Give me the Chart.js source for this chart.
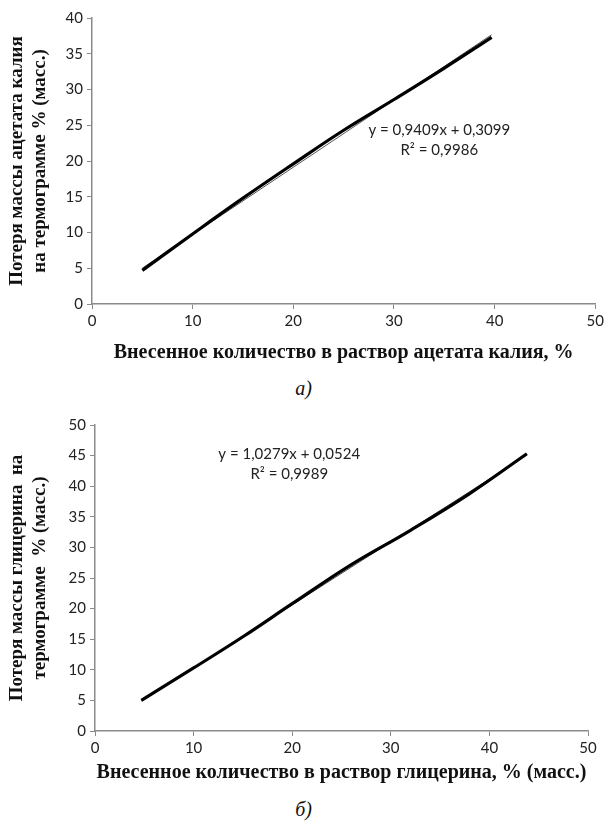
<!DOCTYPE html>
<html>
<head>
<meta charset="utf-8">
<script src="https://cdn.jsdelivr.net/npm/chart.js"></script>
<style>
    body {
        margin: 0;
        background: #fff;
        width: 607px;
        height: 828px;
        position: relative;
        overflow: hidden;
    }
    .box {
        position: absolute;
        left: 0;
    }
    .caption {
        position: absolute;
        left: 0;
        width: 607px;
        text-align: center;
        font: italic 20px "Liberation Serif";
        color: #111;
    }
</style>
</head>
<body>
<div class="box" style="top: 0"><canvas id="chartA" width="607" height="365"></canvas></div>
<div class="caption" style="top: 377px">а)</div>
<div class="box" style="top: 400px"><canvas id="chartB" width="607" height="385"></canvas></div>
<div class="caption" style="top: 798px">б)</div>

<script>
// а) ацетат калия
const acetateX = [5, 10, 15, 20, 25, 30, 35, 39.7];
const acetateY = [4.7, 9.8, 14.8, 19.6, 24.3, 28.6, 33.0, 37.3];
const acetateFit = [0.9409, 0.3099]; // наклон, свободный член
const acetateEq = ["y = 0,9409x + 0,3099", "R² = 0,9986"];

// б) глицерин
const glycerolX = [4.7, 10, 15, 20, 26, 32, 38, 43.8];
const glycerolY = [5.0, 10.3, 15.4, 20.8, 27.2, 32.8, 38.8, 45.3];
const glycerolFit = [1.0279, 0.0524];
const glycerolEq = ["y = 1,0279x + 0,0524", "R² = 0,9989"];

const xTicks = [0, 10, 20, 30, 40, 50];

const xTitleFont = { family: "Liberation Serif", size: 20, weight: "bold", lineHeight: 1.2 };
const yTitleFont = { family: "Liberation Serif", size: 19, weight: "bold", lineHeight: 1.2 };
const tickFont = { family: "Lato", size: 15 };
const axisGray = "#8a8a8a";

function points(xs, ys) {
    return xs.map((x, i) => ({ x: x, y: ys[i] }));
}

function trendLine(xs, fit) {
    const a = xs[0];
    const b = xs[xs.length - 1];
    return [
        { x: a, y: fit[0] * a + fit[1] },
        { x: b, y: fit[0] * b + fit[1] },
    ];
}

// подпись уравнения тренда
const equationLabel = {
    id: "equationLabel",
    afterDatasetsDraw(chart, args, opts) {
        const ctx = chart.ctx;
        const px = chart.scales.x.getPixelForValue(opts.at[0]);
        const py = chart.scales.y.getPixelForValue(opts.at[1]);
        ctx.save();
        ctx.font = "15px Lato";
        ctx.fillStyle = "#222";
        ctx.textAlign = "center";
        ctx.textBaseline = "middle";
        opts.lines.forEach((t, i) => ctx.fillText(t, px, py + i * 20));
        ctx.restore();
    },
};

function makeChart(id, xs, ys, fit, eq, eqAt, yMax, yTitle, xTitle, pad, xHeight) {
    return new Chart(document.getElementById(id), {
        type: "scatter",
        data: {
            datasets: [
                {
                    data: points(xs, ys),
                    showLine: true,
                    borderColor: "#000",
                    borderWidth: 3.2,
                    pointRadius: 0,
                    tension: 0.4,
                },
                {
                    data: trendLine(xs, fit),
                    showLine: true,
                    borderColor: "#555",
                    borderWidth: 1,
                    pointRadius: 0,
                },
            ],
        },
        options: {
            responsive: false,
            animation: false,
            layout: { padding: pad },
            plugins: {
                legend: { display: false },
                tooltip: { enabled: false },
                equationLabel: { lines: eq, at: eqAt },
            },
            scales: {
                x: {
                    type: "linear",
                    min: 0,
                    max: 50,
                    afterBuildTicks: (s) => {
                        s.ticks = xTicks.map((v) => ({ value: v }));
                    },
                    afterFit: (s) => {
                        s.height = xHeight;
                    },
                    grid: {
                        drawOnChartArea: false,
                        tickLength: 5,
                        color: axisGray,
                    },
                    border: { color: axisGray, width: 1.5 },
                    ticks: { font: tickFont, color: "#222", padding: 3 },
                    title: {
                        display: true,
                        text: xTitle,
                        font: xTitleFont,
                        color: "#111",
                        padding: 0,
                    },
                },
                y: {
                    min: 0,
                    max: yMax,
                    afterFit: (s) => {
                        s.width = pad.yWidth;
                    },
                    grid: {
                        drawOnChartArea: false,
                        tickLength: 5,
                        color: axisGray,
                    },
                    border: { color: axisGray, width: 1.5 },
                    ticks: { stepSize: 5, font: tickFont, color: "#222", padding: 4 },
                    title: {
                        display: true,
                        text: yTitle,
                        font: yTitleFont,
                        color: "#111",
                        padding: { top: 6, bottom: 0 },
                    },
                },
            },
        },
        plugins: [equationLabel],
    });
}

makeChart(
    "chartA",
    acetateX,
    acetateY,
    acetateFit,
    acetateEq,
    [34.5, 24.3],
    40,
    ["Потеря массы ацетата калия", "на термограмме % (масс.)"],
    "Внесенное количество в раствор ацетата калия, %",
    { top: 18, right: 10, left: 0, bottom: 0, yWidth: 92 },
    61
);

makeChart(
    "chartB",
    glycerolX,
    glycerolY,
    glycerolFit,
    glycerolEq,
    [19.7, 45.3],
    50,
    ["Потеря массы глицерина  на", "термограмме  % (масс.)"],
    "Внесенное количество в раствор глицерина, % (масс.)",
    { top: 25, right: 19, left: 0, bottom: 0, yWidth: 95 },
    54
);
</script>
</body>
</html>
